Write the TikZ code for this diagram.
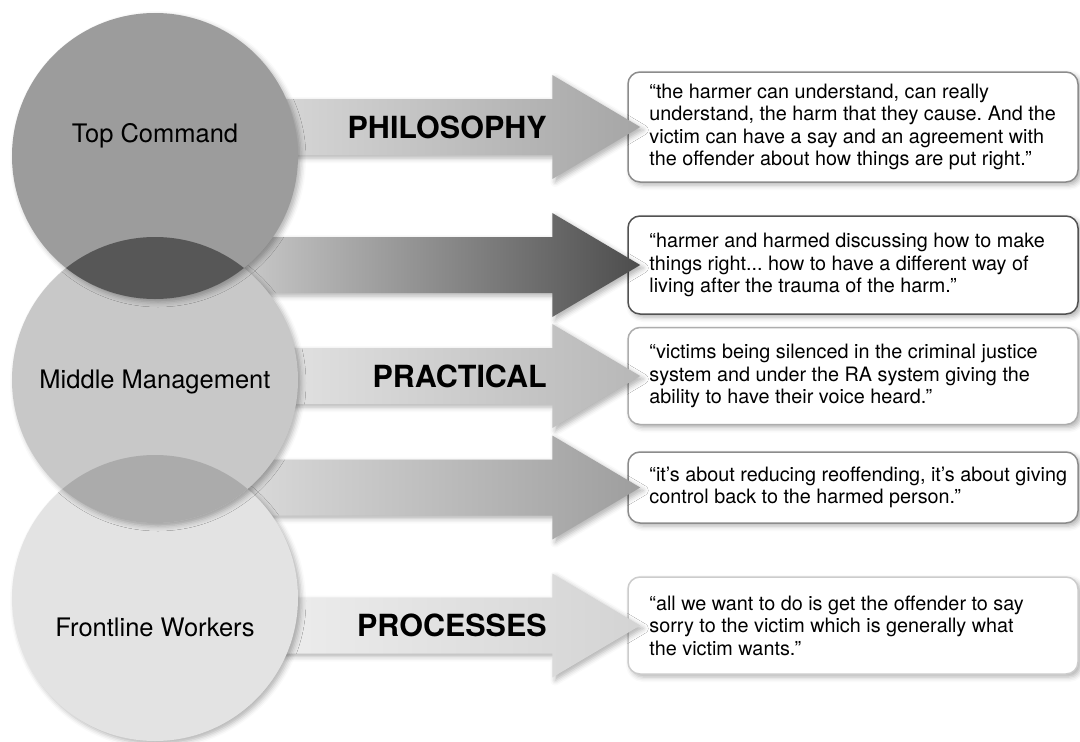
\documentclass[tikz,border=0pt]{standalone}
\usepackage{fontspec}
\setmainfont{TeX Gyre Heros}
\usetikzlibrary{calc, shadows.blur}

\definecolor{topgray}{HTML}{9C9C9C}
\definecolor{midgray}{HTML}{C8C8C8}
\definecolor{frontgray}{HTML}{E3E3E3}
\definecolor{lensdark}{HTML}{575757}
\definecolor{lenslight}{HTML}{ABABAB}

\tikzset{
  softshadow/.style={blur shadow={shadow xshift=3pt, shadow yshift=-3pt,
      shadow blur radius=5pt, shadow opacity=30}},
  tier/.style={circle, minimum size=286pt, inner sep=0pt, softshadow},
  tierlabel/.style={anchor=base, font=\fontsize{25.5}{28}\selectfont},
  quote/.style={draw, rounded corners=12pt, line width=1.5pt, fill=white,
      minimum width=450pt, softshadow},
  quotetext/.style={anchor=west, inner sep=0pt, align=left,
      font=\fontsize{19.8}{22.6}\selectfont\frenchspacing},
  levellabel/.style={anchor=base east, font=\bfseries\fontsize{30.5}{32}\selectfont}
}

\begin{document}
\begin{tikzpicture}[x=1pt, y=-1pt]
  \useasboundingbox (0,0) rectangle (1080,742);

  % Quote boxes on the right
  \node[quote, draw=black!45, minimum height=110pt] (q1) at (853,127) {};
  \node[quote, draw=black!68, minimum height=98pt] (q2) at (853,265) {};
  \node[quote, draw=black!32, minimum height=97pt] (q3) at (853,376) {};
  \node[quote, draw=black!45, minimum height=71pt] (q4) at (853,487.5) {};
  \node[quote, draw=black!20, minimum height=97pt] (q5) at (853,625.5) {};

  \node[quotetext] (t1) at ([xshift=22pt]q1.west)
    {“the harmer can understand, can really\\ understand, the harm that they cause. And the\\ victim can have a say and an agreement with\\ the offender about how things are put right.”};
  \node[quotetext] (t2) at ([xshift=22pt]q2.west)
    {“harmer and harmed discussing how to make\\ things right... how to have a different way of\\ living after the trauma of the harm.”};
  \node[quotetext] (t3) at ([xshift=22pt]q3.west)
    {“victims being silenced in the criminal justice\\ system and under the RA system giving the\\ ability to have their voice heard.”};
  \node[quotetext] (t4) at ([xshift=22pt]q4.west)
    {“it’s about reducing reoffending, it’s about giving\\ control back to the harmed person.”};
  \node[quotetext] (t5) at ([xshift=22pt]q5.west)
    {“all we want to do is get the offender to say\\ sorry to the victim which is generally what\\ the victim wants.”};

  % Fat arrows pointing into the boxes
  \foreach \i/\lc/\rc in {1/black!12/black!35, 2/black!16/black!70,
      3/black!8/black!28, 4/black!12/black!38, 5/black!5/black!17} {
    \shade[left color=\lc, right color=\rc, softshadow]
      ($(q\i.west)+(-428,-28)$) -- ($(q\i.west)+(-75,-28)$)
      -- ($(q\i.west)+(-75,-52)$) -- ($(q\i.west)+(13,0)$)
      -- ($(q\i.west)+(-75,52)$) -- ($(q\i.west)+(-75,28)$)
      -- ($(q\i.west)+(-428,28)$) -- cycle;
  }

  % Level names on the arrows
  \node[levellabel] (philo) at ($(q1.west)+(-77,11)$) {PHILOSOPHY};
  \node[levellabel] (pract) at ($(q3.west)+(-77,11)$) {PRACTICAL};
  \node[levellabel] (proc) at ($(q5.west)+(-77,11)$) {PROCESSES};

  % The three circles
  \node[tier, fill=frontgray] (front) at (155,598) {};
  \node[tier, fill=midgray] (mid) at (155,380) {};
  \node[tier, fill=topgray] (top) at (155,156) {};

  % Overlaps
  \begin{scope}
    \clip (155,156) circle (143);
    \fill[lensdark] (155,380) circle (143);
  \end{scope}
  \begin{scope}
    \clip (155,380) circle (143);
    \fill[lenslight] (155,598) circle (143);
  \end{scope}

  \node[tierlabel] (toplabel) at ([yshift=14pt]top.center) {Top Command};
  \node[tierlabel] (midlabel) at ([yshift=-8pt]mid.center) {Middle Management};
  \node[tierlabel] (frontlabel) at ([yshift=-38pt]front.center) {Frontline Workers};
\end{tikzpicture}
\end{document}
